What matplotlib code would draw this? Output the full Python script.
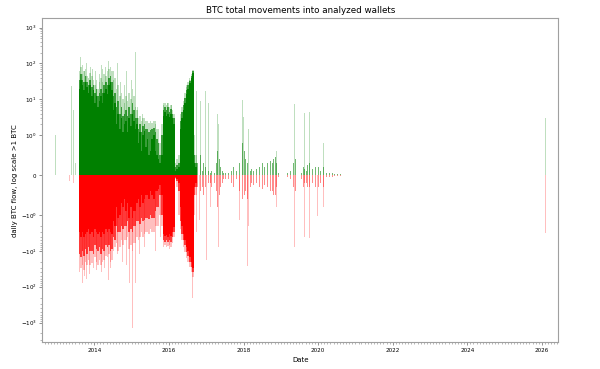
import numpy as np
import pandas as pd
import matplotlib
matplotlib.use("Agg")
import matplotlib.pyplot as plt
import matplotlib.dates as mdates
from matplotlib.ticker import SymmetricalLogLocator

# ---------------- data ----------------
# half-month periods of the busy era, 2013-08 .. 2016-09
periods = pd.date_range("2013-08-01", "2016-09-15", freq="SMS").strftime("%Y-%m-%d").tolist()

# inflows: solid level, mid level, upper envelope (BTC/day)
pos_core = [20, 35, 25, 18, 30, 22, 15, 25, 12, 18,
            8, 12, 6, 9, 12, 8, 15, 20, 14, 25, 30, 18,
            5, 8, 2, 4, 1.5, 3, 1.2, 2, 2.5, 1.2, 3, 1.8,
            4, 2.5, 1.5, 2, 0.8, 1.2, 0.6, 1.0, 1.3, 0.7, 0.9, 0.5,
            0.6, 0.9, 1.0, 0.6, 0.5, 0.4, 0.3, 0.5, 3.5, 4.5, 3.5, 4,
            3.2, 4, 3, 2, 0.1, 0.15, 0.2, 1.5, 3, 5, 8, 14,
            20, 28, 40, 55, 0.3, 0.2]
pos_mid = [35, 50, 35, 30, 45, 30, 25, 35, 22, 25,
           15, 20, 12, 15, 20, 15, 25, 30, 25, 40, 45, 30,
           12, 15, 6, 9, 4, 6, 3.5, 4, 5, 3.5, 6, 4,
           8, 5, 3, 3, 1.5, 2, 1.2, 1.8, 2, 1.5, 1.5, 1.2,
           1.4, 1.5, 1.6, 1.2, 0.9, 0.8, 0.5, 1, 5, 6, 5, 6,
           4.5, 5.5, 4, 3, 0.2, 0.25, 0.3, 2.5, 4.5, 7, 11, 18,
           25, 32, 45, 60, 0.5, 0.3]
pos_upper = [60, 80, 50, 60, 70, 45, 40, 55, 45, 35,
             25, 35, 20, 30, 40, 30, 50, 45, 60, 70, 80, 60,
             35, 40, 20, 25, 12, 15, 10, 8, 12, 9, 15, 10,
             20, 12, 6, 5, 3, 3.5, 2.5, 3, 3, 2.5, 2.5, 2.2,
             2.5, 2.2, 2.5, 2, 1.5, 1.5, 0.8, 2, 7, 8, 7, 8,
             6, 7, 5, 4, 0.3, 0.4, 0.5, 4, 6, 9, 15, 22,
             30, 35, 50, 65, 1, 0.5]

# outflows (absolute values): solid level, mid level, lower envelope
neg_core = [3, 4, 3, 4, 3.5, 3, 2.5, 3.5, 3, 4,
            2.5, 3, 3.5, 3, 4, 3, 3.5, 2.5, 3, 2.5, 3, 3.5,
            1.5, 2, 0.8, 1.2, 1, 0.7, 0.8, 0.6, 0.9, 0.7, 1.2, 0.8,
            1.2, 0.9, 0.9, 0.7, 0.6, 0.8, 0.5, 0.7, 0.6, 0.5, 0.5, 0.6,
            0.4, 0.5, 0.6, 0.4, 0.4, 0.35, 0.25, 0.5, 3.5, 3.8, 3.6, 4,
            3.5, 3.8, 3, 2.2, 0.05, 0.1, 0.2, 0.8, 2, 3.5, 5, 8,
            10, 15, 20, 30, 0.3, 0.2]
neg_mid = [12, 15, 10, 14, 9, 12, 8, 10, 10, 12,
           7, 9, 10, 8, 12, 9, 10, 7, 8, 7, 10, 9,
           4, 5, 2, 3, 3, 2, 2.5, 2, 2, 1.5, 3, 2.5,
           3, 2, 2, 1.5, 1.5, 1.8, 1.2, 1.5, 1.4, 1.2, 1.2, 1.3,
           1, 1.2, 1.2, 0.9, 0.8, 0.8, 0.5, 1, 5, 5.5, 5, 5.5,
           5, 5.5, 4, 3, 0.08, 0.15, 0.4, 1.5, 3.5, 5, 7, 11,
           14, 20, 28, 40, 0.5, 0.3]
neg_upper = [40, 30, 25, 35, 20, 25, 18, 25, 22, 30,
             15, 20, 25, 18, 25, 20, 18, 14, 15, 12, 20, 18,
             10, 8, 6, 10, 8, 5, 7, 5, 5, 4, 9, 7,
             10, 6, 6, 4, 5, 4, 3, 4, 3.5, 3, 3, 3.5,
             2.5, 3, 3, 2, 2, 2, 1, 2, 8, 7, 8, 7.5,
             7, 8, 6, 4, 0.1, 0.3, 1, 2.5, 5, 8, 11, 16,
             20, 28, 40, 55, 1, 0.5]

# quiet era, half-month periods 2016-10 .. 2020-08
quiet_periods = pd.date_range("2016-10-01", "2020-08-15", freq="SMS").strftime("%Y-%m-%d").tolist()
pos_small = [0.3, 0.2, 0.5, 0.1, 0.3, 0.2,
             0.2, 0.1, 0.05, 0.1, 0.1, 0.05, 0.3, 0.6, 0.4, 0.2, 0.1, 0.05,
             0.05, 0.15, 0.05, 0.1, 0.1, 0.2, 0.15, 0.1, 0.2, 0.3, 0.4, 0.8,
             0.6, 0.4, 0.3, 0.2, 0.1, 0.15, 0.1, 0.2, 0.15, 0.1, 0.2, 0.25,
             0.3, 0.2, 0.25, 0.3, 0.3, 0.35, 0.3, 0.4, 0.45, 0.3, 0.05, 0,
             0, 0.05, 0, 0, 0.05, 0, 0.1, 0, 0.3, 0.4, 0.1, 0,
             0, 0.05, 0.2, 0.15, 0.1, 0.25, 0.3, 0.2, 0.15, 0.1, 0.2, 0.3,
             0.2, 0.1, 0.15, 0.2, 0.1, 0.05, 0, 0.05, 0, 0.04, 0.03, 0,
             0.03, 0, 0.03, 0]
neg_small = [0.3, 0.6, 0.4, 0.3, 0.5, 0.3,
             0.3, 0.2, 0.2, 0.3, 0.1, 0.2, 0.4, 0.8, 0.5, 0.3, 0.2, 0.1,
             0.1, 0.2, 0.1, 0.2, 0.2, 0.3, 0.2, 0.1, 0.3, 0.4, 0.5, 0.6,
             0.5, 0.4, 0.6, 0.3, 0.3, 0.2, 0.25, 0.3, 0.2, 0.15, 0.3, 0.3,
             0.35, 0.25, 0.3, 0.3, 0.35, 0.4, 0.4, 0.5, 0.5, 0.3, 0.05, 0,
             0, 0.05, 0, 0, 0.05, 0, 0.1, 0, 0.3, 0.4, 0.1, 0,
             0, 0.1, 0.3, 0.2, 0.2, 0.3, 0.3, 0.3, 0.2, 0.1, 0.3, 0.3,
             0.3, 0.2, 0.2, 0.3, 0.1, 0.05, 0, 0.05, 0, 0.04, 0.03, 0,
             0.03, 0, 0.03, 0]

# individual daily inflow spikes
pos_spike_dates = ["2012-10-15", "2012-12-18", "2013-05-22", "2013-06-10", "2013-07-01",
                   "2013-07-15", "2013-08-20", "2013-09-05", "2013-09-25", "2013-10-20",
                   "2013-11-25", "2013-12-15", "2014-01-15", "2014-02-20", "2014-03-10",
                   "2014-03-20", "2014-04-20", "2014-05-18", "2014-06-13", "2014-07-05",
                   "2014-08-20", "2014-09-15", "2014-10-20", "2014-11-10", "2014-12-28",
                   "2015-02-12", "2015-03-01", "2015-04-15", "2015-06-01", "2015-07-20",
                   "2015-08-25", "2015-11-10", "2015-12-20", "2016-01-25", "2016-06-20",
                   "2016-07-25", "2016-09-28", "2016-11-05", "2016-12-28", "2017-01-22",
                   "2017-04-25", "2017-05-01", "2017-12-25", "2018-01-01", "2018-02-18",
                   "2018-11-20", "2019-05-18", "2019-08-18", "2019-10-12", "2020-01-01",
                   "2020-02-20", "2026-02-01"]
pos_spike_vals = [1.0, 1.0, 23, 5, 0.3,
                  0.25, 150, 90, 60, 100,
                  80, 70, 60, 50, 90,
                  70, 80, 115, 700, 60,
                  105, 30, 25, 60, 35,
                  210, 6, 4, 4, 3,
                  2.5, 8, 8, 7, 25,
                  40, 17, 9, 17, 8,
                  3.8, 2, 9.6, 3.3, 1.5,
                  0.6, 7.4, 4.2, 4.5, 1.1,
                  0.8, 3.0]

# individual daily outflow spikes (absolute values)
neg_spike_dates = ["2012-10-15", "2013-05-01", "2013-06-15", "2013-08-15", "2013-09-10",
                   "2013-09-28", "2013-10-20", "2013-11-15", "2013-12-20", "2014-01-25",
                   "2014-03-15", "2014-04-10", "2014-05-20", "2014-06-10", "2014-08-15",
                   "2014-10-01", "2014-11-15", "2014-12-10", "2015-01-08", "2015-02-05",
                   "2015-03-20", "2015-05-05", "2015-06-20", "2015-08-20", "2015-10-10",
                   "2016-01-10", "2016-08-18", "2016-09-28", "2016-10-28", "2016-12-01",
                   "2017-01-05", "2017-02-10", "2017-05-05", "2017-11-25", "2018-02-08",
                   "2018-02-15", "2018-11-20", "2019-05-18", "2019-08-18", "2019-10-12",
                   "2019-12-25", "2020-02-20", "2026-02-01"]
neg_spike_vals = [1.0, 0.15, 0.2, 100, 80,
                  50, 60, 45, 65, 35,
                  40, 30, 65, 30, 12,
                  20, 25, 80, 1400, 80,
                  12, 8, 12, 10, 4,
                  9, 210, 2.9, 1.4, 3.5,
                  18, 0.8, 7.6, 1.4, 27,
                  2, 0.8, 7.6, 4.2, 4.4,
                  1.1, 0.8, 3.1]

title = "BTC total movements into analyzed wallets"
xlabel = "Date"
ylabel = "daily BTC flow, log scale >1 BTC"

# ---------------- plot ----------------
GREEN = "green"
RED = "red"

fig = plt.figure(figsize=(6.0, 3.69), dpi=100)
ax = fig.add_axes([0.0705, 0.0724, 0.86, 0.8776])

def xnum(dates, offset_days=0):
    return mdates.date2num(pd.to_datetime(dates) + pd.Timedelta(days=offset_days))

def edges(dates):
    x = xnum(dates)
    w = np.append(np.diff(x), 15.0)
    return x, w

hx, hw = edges(periods)
qx = xnum(quiet_periods, 7.5)
px = xnum(pos_spike_dates)
nx = xnum(neg_spike_dates)

kw = dict(align="edge", linewidth=0, antialiased=False)
ax.bar(hx, pos_upper, width=hw, color=GREEN, alpha=0.25, **kw)
ax.bar(hx, pos_mid, width=hw, color=GREEN, alpha=0.7, **kw)
ax.bar(hx, pos_core, width=hw, color=GREEN, alpha=1.0, **kw)
ax.bar(hx, -np.array(neg_upper), width=hw, color=RED, alpha=0.25, **kw)
ax.bar(hx, -np.array(neg_mid), width=hw, color=RED, alpha=0.7, **kw)
ax.bar(hx, -np.array(neg_core), width=hw, color=RED, alpha=1.0, **kw)
ax.bar(qx, pos_small, width=7, color=GREEN, alpha=0.55, linewidth=0)
ax.bar(qx, -np.array(neg_small), width=7, color=RED, alpha=0.45, linewidth=0)
ax.bar(px, pos_spike_vals, width=8, color=GREEN, alpha=0.25, linewidth=0)
ax.bar(nx, -np.array(neg_spike_vals), width=8, color=RED, alpha=0.25, linewidth=0)

ax.set_yscale("symlog", linthresh=1)
ax.set_ylim(-3540, 1795)
ax.yaxis.set_minor_locator(SymmetricalLogLocator(ax.yaxis.get_transform(), subs=np.arange(2, 10)))
ax.set_xlim(xnum("2012-08-10"), xnum("2026-06-10"))
ax.xaxis.set_major_locator(mdates.YearLocator(2))
ax.xaxis.set_major_formatter(mdates.DateFormatter("%Y"))
ax.xaxis.set_minor_locator(mdates.MonthLocator())

for s in ax.spines.values():
    s.set_color("#a0a0a0")
    s.set_linewidth(0.8)
ax.tick_params(axis="both", which="major", labelsize=4.1, length=2.5, width=0.6,
               color="#808080", pad=1.5)
ax.tick_params(axis="both", which="minor", length=1.5, width=0.4, color="#808080")

ax.set_title(title, fontsize=6.3, pad=4)
ax.set_xlabel(xlabel, fontsize=5.0, labelpad=3)
ax.set_ylabel(ylabel, fontsize=5.0, labelpad=2)

fig.savefig("out.png", dpi=100)
